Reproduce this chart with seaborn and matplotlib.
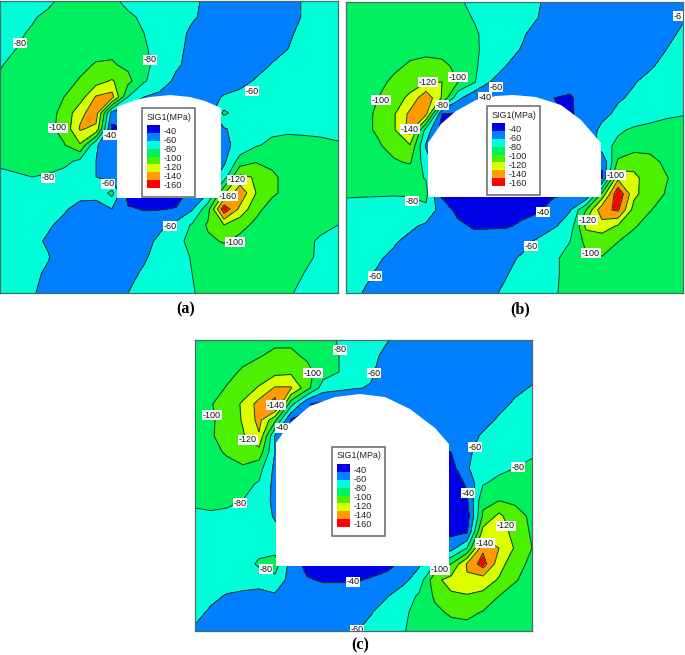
import numpy as np
import matplotlib
matplotlib.use("Agg")
import matplotlib.pyplot as plt
from matplotlib.colors import ListedColormap
from matplotlib.patches import Rectangle
import seaborn as sns

# stress levels and legend
levels = [-160, -140, -120, -100, -80, -60, -40]
legend_labels = ["-40", "-60", "-80", "-100", "-120", "-140", "-160"]
band_colors = ["#0000e6", "#0080ff", "#00ffd9", "#00f060", "#4cf000", "#dcff00", "#ff9a00", "#ff0000"]

# sample positions across each model (x to the right, y downward)
x_a = [0, 16, 32, 48, 64, 80, 96, 112, 128, 144, 160, 176, 192, 208, 224, 240, 256, 272, 288, 304, 320, 338]
y_a = [0, 16, 32, 48, 64, 80, 96, 112, 128, 144, 160, 176, 192, 208, 224, 240, 256, 272, 292]
x_bc = [0, 16, 32, 48, 64, 80, 96, 112, 128, 144, 160, 176, 192, 208, 224, 240, 256, 272, 288, 304, 320, 337]
y_bc = [0, 16, 32, 48, 64, 80, 96, 112, 128, 144, 160, 176, 192, 208, 224, 240, 256, 272, 291]

sig1_a = [
    [-70, -70, -72, -76, -85, -88, -88, -85, -74, -68, -65, -63, -61, -59, -52, -50, -50, -50, -52, -62, -66, -68],
    [-70, -73, -78, -84, -90, -92, -92, -90, -84, -76, -70, -65, -62, -56, -50, -48, -48, -48, -52, -62, -66, -68],
    [-74, -77, -82, -88, -92, -94, -94, -92, -88, -80, -72, -66, -57, -50, -47, -45, -46, -50, -57, -65, -68, -70],
    [-76, -80, -86, -90, -94, -96, -96, -96, -92, -82, -74, -65, -55, -50, -47, -46, -48, -54, -60, -67, -70, -72],
    [-79, -84, -88, -92, -95, -97, -101, -102, -96, -84, -74, -63, -54, -48, -46, -47, -53, -61, -66, -70, -72, -72],
    [-82, -86, -90, -93, -96, -101, -112, -122, -106, -82, -70, -56, -50, -47, -48, -54, -62, -68, -72, -74, -74, -74],
    [-84, -88, -90, -94, -100, -110, -142, -148, -80, -60, -55, -50, -50, -52, -62, -66, -70, -72, -74, -74, -75, -75],
    [-86, -88, -92, -95, -104, -135, -150, -52, -45, -45, -45, -45, -45, -50, -84, -70, -72, -74, -74, -75, -75, -75],
    [-86, -88, -92, -96, -105, -142, -135, -35, -40, -45, -45, -45, -45, -50, -58, -68, -72, -76, -78, -78, -78, -77],
    [-85, -87, -90, -93, -99, -118, -62, -48, -45, -45, -45, -45, -45, -50, -55, -67, -78, -84, -84, -83, -82, -81],
    [-84, -85, -86, -88, -86, -76, -60, -50, -45, -45, -45, -45, -45, -50, -56, -88, -98, -96, -92, -88, -87, -85],
    [-75, -78, -80, -78, -72, -66, -60, -50, -45, -45, -45, -45, -45, -50, -70, -125, -118, -103, -95, -90, -88, -86],
    [-72, -72, -72, -70, -68, -65, -65, -86, -32, -32, -32, -32, -45, -60, -118, -155, -120, -103, -95, -90, -88, -85],
    [-70, -70, -69, -66, -62, -55, -54, -60, -42, -39, -39, -41, -58, -92, -175, -135, -105, -93, -90, -86, -84, -82],
    [-68, -67, -66, -62, -56, -50, -48, -48, -47, -48, -56, -66, -82, -103, -120, -106, -96, -90, -87, -84, -82, -80],
    [-67, -66, -64, -58, -52, -48, -47, -47, -48, -54, -64, -74, -86, -96, -102, -95, -90, -87, -84, -82, -79, -77],
    [-66, -64, -62, -61, -52, -49, -48, -49, -52, -58, -66, -74, -81, -87, -88, -87, -86, -84, -82, -83, -78, -75],
    [-66, -64, -63, -58, -52, -50, -50, -52, -56, -62, -68, -74, -80, -84, -85, -85, -84, -83, -81, -80, -76, -74],
    [-66, -64, -61, -57, -53, -51, -51, -54, -60, -64, -68, -73, -79, -84, -85, -85, -84, -83, -81, -78, -76, -74],
]

sig1_b = [
    [-90, -91, -92, -93, -92, -90, -88, -83, -75, -72, -68, -65, -61, -56, -52, -50, -48, -48, -48, -50, -52, -55],
    [-90, -91, -92, -93, -93, -92, -90, -86, -79, -72, -67, -63, -60, -54, -50, -48, -47, -47, -48, -50, -54, -59],
    [-90, -91, -92, -94, -94, -94, -92, -88, -83, -73, -67, -62, -54, -50, -47, -46, -46, -47, -48, -52, -57, -62],
    [-90, -92, -93, -95, -96, -97, -96, -91, -84, -72, -65, -59, -52, -48, -46, -45, -46, -48, -50, -55, -60, -65],
    [-90, -92, -94, -97, -102, -104, -103, -97, -83, -70, -60, -52, -48, -46, -45, -46, -48, -50, -54, -58, -65, -68],
    [-91, -93, -96, -103, -110, -119, -120, -100, -82, -60, -50, -47, -46, -46, -46, -47, -50, -54, -59, -65, -68, -70],
    [-91, -94, -100, -110, -125, -155, -118, -65, -45, -45, -45, -45, -45, -40, -38, -48, -52, -58, -63, -67, -70, -72],
    [-92, -96, -102, -118, -145, -145, -40, -38, -38, -42, -42, -42, -42, -42, -38, -46, -55, -64, -68, -72, -77, -79],
    [-92, -96, -102, -118, -148, -72, -32, -38, -42, -42, -42, -42, -42, -42, -42, -48, -65, -77, -83, -86, -87, -88],
    [-90, -94, -98, -106, -118, -58, -40, -42, -42, -42, -42, -42, -42, -42, -42, -45, -72, -85, -92, -95, -93, -90],
    [-88, -88, -90, -98, -102, -70, -40, -42, -42, -42, -42, -42, -42, -42, -42, -42, -42, -104, -112, -105, -97, -92],
    [-86, -86, -86, -87, -86, -79, -40, -42, -42, -42, -42, -42, -42, -42, -42, -40, -38, -135, -125, -110, -101, -94],
    [-81, -81, -81, -81, -82, -85, -36, -38, -38, -38, -38, -38, -38, -38, -38, -38, -105, -178, -125, -108, -99, -92],
    [-77, -76, -75, -73, -70, -76, -50, -35, -33, -33, -33, -35, -38, -48, -59, -100, -155, -163, -112, -101, -92, -87],
    [-74, -72, -70, -66, -64, -56, -50, -44, -38, -38, -38, -43, -48, -58, -68, -125, -130, -118, -102, -92, -88, -84],
    [-72, -70, -66, -62, -54, -48, -46, -46, -47, -49, -52, -55, -64, -73, -80, -105, -108, -100, -92, -88, -84, -82],
    [-70, -66, -62, -56, -52, -50, -49, -49, -50, -52, -56, -62, -70, -77, -86, -97, -99, -94, -89, -86, -83, -81],
    [-68, -64, -58, -52, -50, -49, -49, -50, -53, -56, -59, -66, -73, -78, -84, -88, -89, -88, -86, -84, -83, -81],
    [-66, -60, -56, -52, -50, -49, -49, -50, -53, -57, -63, -70, -75, -79, -83, -86, -87, -86, -85, -84, -83, -82],
]

sig1_c = [
    [-88, -89, -90, -92, -94, -96, -96, -92, -85, -79, -72, -66, -61, -55, -52, -50, -49, -48, -48, -48, -48, -48],
    [-88, -90, -92, -96, -99, -104, -104, -97, -87, -80, -72, -64, -56, -51, -49, -47, -47, -46, -46, -47, -48, -50],
    [-89, -92, -96, -102, -108, -114, -116, -106, -90, -80, -71, -62, -53, -49, -47, -46, -46, -46, -47, -49, -52, -56],
    [-90, -94, -101, -110, -122, -142, -142, -108, -70, -64, -61, -59, -50, -47, -46, -46, -46, -47, -50, -53, -57, -61],
    [-92, -99, -108, -123, -148, -172, -88, -42, -35, -40, -40, -40, -40, -45, -45, -45, -46, -48, -51, -56, -62, -66],
    [-92, -98, -106, -122, -146, -105, -38, -38, -38, -40, -40, -40, -40, -42, -46, -45, -46, -50, -55, -62, -67, -69],
    [-93, -99, -104, -118, -138, -58, -38, -40, -40, -40, -40, -40, -40, -42, -44, -46, -47, -54, -62, -68, -71, -73],
    [-89, -93, -103, -112, -112, -60, -42, -42, -42, -42, -42, -42, -42, -42, -40, -38, -40, -55, -70, -74, -76, -78],
    [-85, -88, -92, -97, -88, -55, -45, -42, -42, -42, -42, -42, -42, -42, -42, -38, -32, -58, -72, -76, -80, -83],
    [-82, -84, -87, -85, -78, -54, -48, -45, -45, -45, -45, -45, -45, -45, -42, -36, -30, -42, -79, -85, -87, -87],
    [-81, -82, -82, -80, -74, -54, -48, -45, -45, -45, -45, -45, -45, -45, -42, -36, -30, -37, -95, -99, -97, -91],
    [-79, -79, -78, -74, -70, -58, -50, -45, -45, -45, -45, -45, -45, -45, -42, -36, -30, -30, -103, -125, -106, -97],
    [-76, -75, -73, -71, -69, -65, -55, -45, -45, -45, -45, -45, -45, -45, -42, -36, -35, -38, -128, -135, -110, -98],
    [-74, -72, -71, -70, -72, -72, -58, -42, -40, -40, -40, -40, -40, -42, -45, -45, -52, -80, -155, -140, -118, -100],
    [-72, -70, -69, -69, -84, -90, -52, -33, -30, -30, -30, -30, -33, -45, -58, -80, -100, -142, -170, -128, -108, -95],
    [-70, -68, -66, -66, -65, -74, -52, -42, -38, -38, -38, -42, -48, -56, -67, -115, -127, -138, -130, -118, -102, -90],
    [-68, -63, -59, -57, -56, -57, -52, -50, -50, -50, -51, -54, -59, -68, -83, -103, -117, -118, -115, -100, -90, -85],
    [-64, -58, -53, -50, -49, -49, -49, -49, -50, -52, -55, -59, -67, -77, -85, -96, -103, -105, -99, -92, -86, -83],
    [-58, -53, -50, -49, -49, -49, -49, -50, -52, -55, -59, -65, -71, -79, -85, -89, -92, -93, -90, -86, -83, -81],
]

# contour labels of each panel
labels_a = ["-80", "-80", "-60", "-100", "-40", "-80", "-60", "-120", "-160", "-60", "-100"]
labels_b = ["-6", "-100", "-120", "-100", "-60", "-40", "-80", "-140", "-80", "-100", "-40", "-120", "-60", "-100", "-60"]
labels_c = ["-80", "-100", "-60", "-100", "-140", "-40", "-120", "-60", "-80", "-80", "-40", "-120", "-140", "-80", "-100", "-40", "-60"]

sns.set_theme(style="white")
plt.rcParams["font.family"] = ["Liberation Sans", "DejaVu Sans"]

W, H = 685, 655
fig = plt.figure(figsize=(W / 100, H / 100), dpi=100, facecolor="white")
palette = sns.color_palette(band_colors)


def px_axes(left, top, width, height):
    return fig.add_axes([left / W, 1 - (top + height) / H, width / W, height / H])


def draw_panel(box, xs, ys, sig1, tunnel, labels, label_pos, legend_box, caption, caption_pos):
    left, top, width, height = box
    ax = px_axes(left, top, width, height)
    # palette runs top to bottom in the legend, contourf wants low to high
    ax.contourf(xs, ys, sig1, levels=[-1000] + levels + [1000], colors=palette[::-1])
    ax.contour(xs, ys, sig1, levels=levels, colors="#0b3a1e", linewidths=0.7, linestyles="solid")
    ax.fill(tunnel[0], tunnel[1], color="white", zorder=3, lw=0)
    ax.set_xlim(0, width)
    ax.set_ylim(height, 0)
    ax.set_xticks([])
    ax.set_yticks([])
    for s in ax.spines.values():
        s.set_color("#4a6a6a")
        s.set_linewidth(0.9)

    for txt, (px, py) in zip(labels, label_pos):
        ax.text(px - left, py - top, txt, fontsize=6.5, ha="center", va="center", color="#111111", zorder=5,
                clip_on=True, bbox=dict(facecolor="white", edgecolor="none", pad=0.6))

    # legend box with the swatch column
    bx, by = legend_box
    ax.add_patch(Rectangle((bx - left, by - top), 53, 89, facecolor="white", edgecolor="#666666", lw=1.1, zorder=4))
    ax.text(bx + 27 - left, by + 9 - top, "SIG1(MPa)", fontsize=6.4, ha="center", va="center", color="#222222", zorder=5)
    cax = px_axes(bx + 4.5, by + 17, 13.5, 63)
    sns.heatmap(np.arange(8).reshape(8, 1), cmap=ListedColormap(palette), cbar=False, ax=cax,
                xticklabels=False, yticklabels=False)
    cax.set_zorder(6)
    for i, txt in enumerate(legend_labels):
        ax.text(bx + 21.5 - left, by + 23.5 + i * 9 - top, txt, fontsize=6.6, ha="left", va="center", color="#222222", zorder=5)

    fig.text(caption_pos[0] / W, 1 - caption_pos[1] / H, caption, fontsize=11.5, fontweight="bold",
             family="Liberation Serif", ha="center", va="center", color="black")


draw_panel((0, 1, 338, 292), x_a, y_a, sig1_a,
           ([117, 117, 135, 150, 170, 190, 205, 221, 221], [197, 106, 99, 96, 94, 96, 100, 107, 197]),
           labels_a,
           [(20, 43), (150, 60), (252, 91), (58, 128), (110, 135), (48, 178), (108, 184), (237, 180), (228, 196), (170, 226), (235, 242)],
           (142, 108), "(a)", (186, 309))

draw_panel((346, 2, 337, 291), x_bc, y_bc, sig1_b,
           ([82, 82, 95, 110, 130, 150, 167, 190, 215, 235, 255, 255], [195, 141, 122, 109, 98, 94, 93, 95, 103, 118, 141, 195]),
           labels_b,
           [(678, 16), (381, 100), (428, 82), (458, 77), (496, 87), (485, 97), (442, 105), (410, 129), (412, 201), (616, 175), (543, 212), (588, 220), (531, 246), (591, 253), (375, 276)],
           (487, 106), "(b)", (520, 309))

draw_panel((195, 340, 337, 291), x_bc, y_bc, sig1_c,
           ([81, 81, 95, 115, 140, 165, 190, 215, 240, 254, 254], [226, 103, 83, 66, 57, 54, 57, 69, 88, 104, 226]),
           labels_c,
           [(340, 350), (313, 373), (374, 373), (212, 415), (276, 405), (282, 428), (248, 440), (475, 447), (518, 467), (240, 503), (468, 493), (506, 526), (485, 543), (266, 569), (440, 570), (353, 582), (357, 630)],
           (332, 447), "(c)", (360, 645))

fig.savefig("out.png", dpi=100, facecolor="white")
